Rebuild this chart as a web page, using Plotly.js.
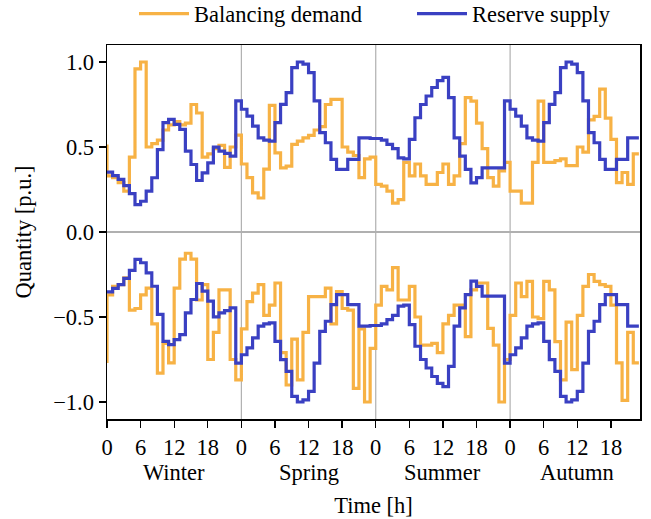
<!DOCTYPE html>
<html><head><meta charset="utf-8">
<script src="https://cdn.plot.ly/plotly-3.0.1.min.js"></script>
<style>html,body{margin:0;padding:0;background:#fff}#chart{width:651px;height:519px}</style>
</head><body><div id="chart"></div>
<script>
const seasons = ['Winter', 'Spring', 'Summer', 'Autumn'];
const hourTickLabels = ['0', '6', '12', '18'];
const hourTickValues = [0, 6, 12, 18];
const hoursPerSeason = 24;
const seasonBoundaries = [24, 48, 72];

// Reserve supply (upper envelope; lower is its mirror)
const reserveSupply = [
  0.35,
  0.352,0.332,0.309,0.273,0.226,0.161,0.181,0.240,0.319,0.485,0.643,0.663,0.633,0.604,0.476,0.397,0.303,0.348,0.407,0.499,0.476,0.462,0.446,0.771,
  0.722,0.682,0.623,0.554,0.540,0.535,0.643,0.751,0.820,0.967,1.000,0.987,0.938,0.771,0.584,0.525,0.427,0.368,0.368,0.427,0.427,0.554,0.554,
  0.550,0.550,0.540,0.515,0.490,0.436,0.430,0.545,0.672,0.750,0.800,0.850,0.890,0.910,0.790,0.554,0.446,0.368,0.289,0.320,0.377,0.377,0.377,0.377,
  0.771,0.722,0.682,0.623,0.554,0.540,0.535,0.643,0.751,0.820,0.967,1.000,0.987,0.938,0.771,0.584,0.525,0.427,0.368,0.368,0.427,0.427,0.554,0.554
];

// Balancing demand, upward
const demandUp = [
  0.515,
  0.33,0.32,0.29,0.24,0.44,0.96,1.00,0.50,0.52,0.54,0.60,0.63,0.65,0.63,0.64,0.75,0.70,0.44,0.46,0.49,0.51,0.38,0.50,0.57,
  0.40,0.32,0.23,0.20,0.37,0.745,0.466,0.377,0.387,0.515,0.535,0.554,0.568,0.60,0.62,0.75,0.78,0.78,0.50,0.47,0.45,0.32,0.43,0.44,
  0.28,0.27,0.24,0.17,0.19,0.41,0.33,0.40,0.33,0.28,0.28,0.35,0.40,0.28,0.33,0.52,0.79,0.77,0.64,0.49,0.32,0.27,0.36,0.41,
  0.24,0.24,0.17,0.17,0.41,0.77,0.41,0.41,0.42,0.43,0.39,0.39,0.50,0.47,0.66,0.68,0.84,0.67,0.545,0.29,0.35,0.28,0.46
];

// Balancing demand, downward
const demandDown = [
  -0.77,
  -0.37,-0.32,-0.31,-0.27,-0.46,-0.45,-0.37,-0.33,-0.54,-0.83,-0.655,-0.77,-0.33,-0.16,-0.125,-0.16,-0.40,-0.31,-0.75,-0.59,-0.34,-0.34,-0.75,-0.87,
  -0.57,-0.41,-0.36,-0.31,-0.49,-0.43,-0.30,-0.71,-0.90,-0.63,-0.87,-0.59,-0.38,-0.38,-0.38,-0.33,-0.54,-0.35,-0.45,-0.46,-0.92,-0.57,-1.00,-0.685,
  -0.43,-0.32,-0.34,-0.21,-0.40,-0.40,-0.32,-0.50,-0.665,-0.665,-0.655,-0.71,-0.54,-0.49,-0.43,-0.43,-0.615,-0.34,-0.30,-0.30,-0.567,-0.665,-1.00,-0.75,
  -0.49,-0.30,-0.38,-0.29,-0.50,-0.51,-0.29,-0.34,-0.645,-0.87,-0.53,-0.81,-0.49,-0.32,-0.25,-0.29,-0.31,-0.32,-0.43,-0.77,-0.99,-0.59,-0.77
];

const hours = reserveSupply.map((_, i) => i);
const reserveDown = reserveSupply.map(v => -v);

const orange = '#F7B245';
const blue = '#3A40C2';
const mkFont = () => ({family: 'Liberation Serif', size: 22.5, color: '#000000'});

const tickvals = [], ticktext = [];
seasons.forEach((s, i) => hourTickValues.forEach((h, j) => {
  tickvals.push(i * hoursPerSeason + h);
  ticktext.push(hourTickLabels[j]);
}));

const lineStyle = (c) => ({shape: 'vh', color: c, width: 3.2});
const traces = [
  {x: hours, y: demandUp, mode: 'lines', line: lineStyle(orange), name: 'Balancing demand', legendgroup: 'd', legend: 'legend'},
  {x: hours, y: demandDown, mode: 'lines', line: lineStyle(orange), name: 'Balancing demand', legendgroup: 'd', showlegend: false},
  {x: hours, y: reserveSupply, mode: 'lines', line: lineStyle(blue), name: 'Reserve supply', legendgroup: 'r', legend: 'legend2'},
  {x: hours, y: reserveDown, mode: 'lines', line: lineStyle(blue), name: 'Reserve supply', legendgroup: 'r', showlegend: false, legend: 'legend2'}
];

const shapes = seasonBoundaries.map(b => ({
  type: 'line', xref: 'x', yref: 'paper', x0: b, x1: b, y0: 0, y1: 1,
  line: {color: '#b0b0b0', width: 1.2}, layer: 'below'
}));

const annotations = seasons.map((s, i) => ({
  x: i * hoursPerSeason + hoursPerSeason / 2, y: -0.142, xref: 'x', yref: 'paper',
  text: s, showarrow: false, font: mkFont(), xanchor: 'center', yanchor: 'middle'
}));

const legendBase = (xpx) => ({
  orientation: 'h', x: xpx / 651, xanchor: 'left', xref: 'container',
  y: 0.973, yanchor: 'middle', yref: 'container',
  font: mkFont(), bgcolor: 'rgba(0,0,0,0)', itemwidth: 50
});

const layout = {
  width: 651, height: 519,
  margin: {l: 107, r: 11, t: 45, b: 100, autoexpand: false},
  paper_bgcolor: '#ffffff', plot_bgcolor: '#ffffff',
  font: mkFont(),
  showlegend: true,
  legend: legendBase(134),
  legend2: legendBase(412),
  xaxis: {
    range: [0, 95.2], tickmode: 'array', tickvals: tickvals, ticktext: ticktext,
    ticks: 'outside', ticklen: 7, tickwidth: 1.3, tickcolor: '#000',
    showline: true, linecolor: '#000', linewidth: 1.5, mirror: true,
    showgrid: false, zeroline: false, tickfont: mkFont(),
    title: {text: 'Time [h]', font: mkFont(), standoff: 38}
  },
  yaxis: {
    range: [-1.1, 1.1], tickmode: 'array', tickvals: [-1, -0.5, 0, 0.5, 1], tickformat: '.1f',
    ticks: 'outside', ticklen: 7, tickwidth: 1.3, tickcolor: '#000',
    showline: true, linecolor: '#000', linewidth: 1.5, mirror: true,
    showgrid: false, zeroline: true, zerolinecolor: '#b0b0b0', zerolinewidth: 1.2,
    tickfont: mkFont(),
    title: {text: 'Quantity [p.u.]', font: mkFont(), standoff: 15}
  },
  shapes: shapes,
  annotations: annotations
};

Plotly.newPlot('chart', traces, layout, {displayModeBar: false, staticPlot: true});
</script>
</body></html>
